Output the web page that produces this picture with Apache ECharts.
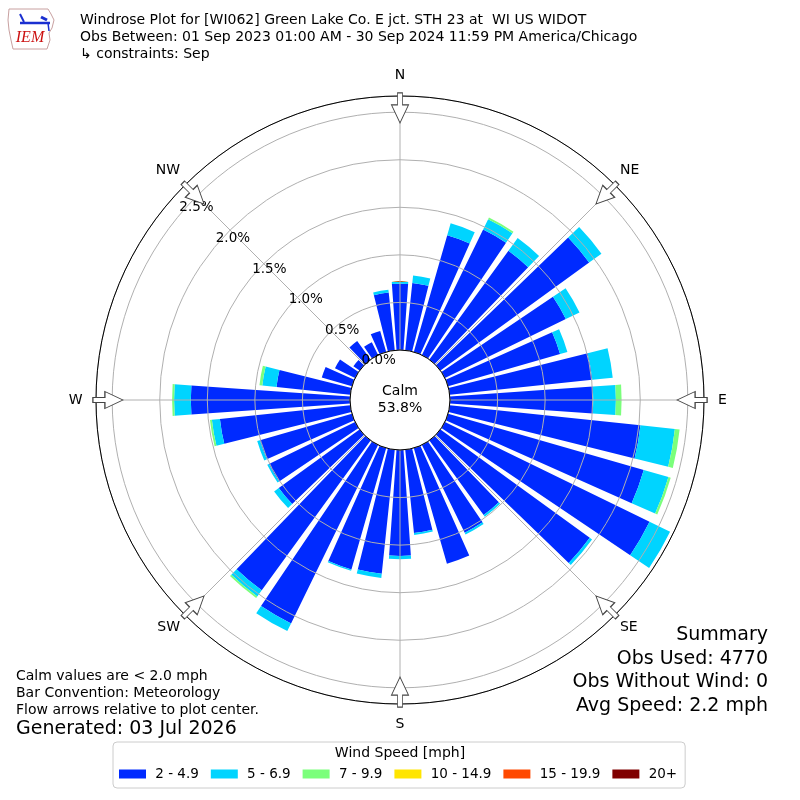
<!DOCTYPE html>
<html><head><meta charset="utf-8">
<script src="https://cdn.jsdelivr.net/npm/echarts@6/dist/echarts.min.js"></script>
<style>html,body{margin:0;padding:0;background:#fff}#c{width:800px;height:800px}</style>
</head><body><div id="c"></div>
<script>
// ---- data ----
const directions = [0,10,20,30,40,50,60,70,80,90,100,110,120,130,140,150,160,170,180,190,200,210,220,230,240,250,260,270,280,290,300,310,320,330,340,350];
const speedBins = ['2 - 4.9','5 - 6.9','7 - 9.9','10 - 14.9','15 - 19.9','20+'];
const speed2to5   = [0.697,0.711,1.276,1.468,1.414,1.932,1.414,1.225,1.507,1.506,2.016,2.14,2.393,1.94,0.97,1.026,1.264,0.88,1.113,1.31,1.327,2.087,1.947,1.05,1.007,1.006,1.378,1.673,0.78,0.33,0.235,0.08,0.24,0.15,0.23,0.61];
const speed5to7   = [0.02,0.08,0.13,0.12,0.165,0.16,0.16,0.08,0.216,0.238,0.364,0.27,0.24,0.03,0.02,0.02,0,0.02,0.035,0.045,0.015,0.09,0.08,0.06,0.02,0.03,0.085,0.176,0.15,0,0,0,0,0,0,0.03];
const speed7to10  = [0,0,0,0.02,0,0,0,0,0,0.06,0.05,0.025,0,0,0,0,0,0,0,0,0,0,0.02,0,0,0,0.02,0.021,0.03,0,0,0,0,0,0,0];
const speed10to15 = new Array(36).fill(0);
const speed15to20 = new Array(36).fill(0);
const speed20plus = new Array(36).fill(0);
const compassLabels = ['N','NE','E','SE','S','SW','W','NW'];
const arrowDirs = [0,45,90,135,180,225,270,315];
const calmPct = '53.8%';
const titleLines = ['Windrose Plot for [WI062] Green Lake Co. E jct. STH 23 at  WI US WIDOT',
  'Obs Between: 01 Sep 2023 01:00 AM - 30 Sep 2024 11:59 PM America/Chicago',
  '\u21b3 constraints: Sep'];
const summaryLines = ['Summary','Obs Used: 4770','Obs Without Wind: 0','Avg Speed: 2.2 mph'];
const noteLines = ['Calm values are < 2.0 mph','Bar Convention: Meteorology','Flow arrows relative to plot center.'];
const generatedLine = 'Generated: 03 Jul 2026';

// ---- styling ----
const FONT = 'DejaVu Sans';
const RMAX = 2.67;
const colors = ['#002aff','#00d4ff','#7bff7b','#ffe500','#ff4900','#800000'];
const speedData = [speed2to5, speed5to7, speed7to10, speed10to15, speed15to20, speed20plus];

const chart = echarts.init(document.getElementById('c'), null, {renderer:'canvas'});

const barSeries = speedBins.map((name, i) => ({
  name, type:'bar', coordinateSystem:'polar', polarIndex:0, stack:'rose',
  data: speedData[i], barCategoryGap:'20%', itemStyle:{color:colors[i]}, z:2, silent:true
}));

const arrowSeries = {
  type:'scatter', coordinateSystem:'polar', polarIndex:1, silent:true, z:6,
  data: arrowDirs.map(a => ({value:[2.545, a], symbolRotate:-a})),
  symbol:'path://M6,0 L11,0 L11,12 L17,12 L8.5,30 L0,12 L6,12 Z',
  symbolSize:[17,30],
  itemStyle:{color:'#ffffff', borderColor:'#444', borderWidth:1, opacity:1}
};

const txt = (x, y, text, size, align, extra) => Object.assign({
  type:'text', z:10, silent:true,
  style:{x, y, text, fill:'#000', font: size + 'px "' + FONT + '"', textAlign:align||'left', textVerticalAlign:'middle'}
}, extra||{});

const graphics = [];
titleLines.forEach((t,i) => graphics.push(txt(80, 20 + i*17, t, 14)));
summaryLines.forEach((t,i) => graphics.push(txt(768, 635 + i*23.7, t, 19, 'right')));
noteLines.forEach((t,i) => graphics.push(txt(16, 676 + i*17, t, 14)));
graphics.push(txt(16, 729, generatedLine, 19));
graphics.push(txt(400, 391, 'Calm', 14, 'center'));
graphics.push(txt(400, 408, calmPct, 14, 'center'));
graphics.push(txt(400, 753, 'Wind Speed [mph]', 14, 'center'));
// IEM logo
graphics.push({type:'polygon', z:10, silent:true,
  shape:{points:[[9,9],[48,9],[51,14],[54,20],[52,28],[49,33],[50,40],[47,49],[13,49],[11,40],[9,30],[8,20]]},
  style:{fill:'none', stroke:'#c8a0a0', lineWidth:1}});
graphics.push({type:'line', z:10, silent:true, shape:{x1:20,y1:23,x2:50,y2:23}, style:{stroke:'#1a2fd0', lineWidth:2.5}});
graphics.push({type:'line', z:10, silent:true, shape:{x1:20,y1:14,x2:24,y2:22}, style:{stroke:'#1a2fd0', lineWidth:2}});
graphics.push({type:'line', z:10, silent:true, shape:{x1:41,y1:17,x2:47,y2:20}, style:{stroke:'#1a2fd0', lineWidth:3}});
graphics.push({type:'line', z:10, silent:true, shape:{x1:48,y1:23,x2:49,y2:31}, style:{stroke:'#1a2fd0', lineWidth:1.5}});
graphics.push({type:'text', z:10, silent:true, style:{x:30, y:38, text:'IEM', fill:'#cc1111', font:'italic 16px "Liberation Serif"', textAlign:'center', textVerticalAlign:'middle'}});

// per-direction label nudges (rich text padding)
const dirRich = {
  N:{padding:[0,0,7,0]}, NE:{padding:[0,0,3,0]}, E:{padding:[0,0,0,7]}, SE:{padding:[0,0,0,0]},
  S:{padding:[6,0,0,0]}, SW:{padding:[0,0,0,0]}, W:{padding:[0,6.5,0,0]}, NW:{padding:[0,0,3,0]}
};
Object.keys(dirRich).forEach(k => Object.assign(dirRich[k], {fontSize:14, color:'#000', fontFamily:FONT}));

const option = {
  animation:false,
  backgroundColor:'#fff',
  textStyle:{fontFamily:FONT},
  polar:[
    {center:[400,400], radius:[50,304]},
    {center:[400,400], radius:[50,304]},
    {center:[400,402], radius:[42.8,296.8]}
  ],
  angleAxis:[
    {polarIndex:0, type:'category', data:directions, startAngle:95, show:false},
    {polarIndex:1, type:'value', min:0, max:360, interval:45, startAngle:90, clockwise:true, z:3,
      axisLine:{show:true, lineStyle:{color:'#000', width:1}},
      axisTick:{show:false},
      splitLine:{show:true, lineStyle:{color:'#b0b0b0', width:1}},
      axisLabel:{margin:7, fontSize:14, color:'#000', fontFamily:FONT, rich:dirRich,
        formatter: v => { if (v >= 360) return ''; const l = compassLabels[Math.round(v/45)]; return '{' + l + '|' + l + '}'; }}},
    {polarIndex:2, type:'value', min:0, max:360, startAngle:140, show:false}
  ],
  radiusAxis:[
    {polarIndex:0, type:'value', min:0, max:RMAX, show:false},
    {polarIndex:1, type:'value', min:0, max:RMAX, interval:0.5, z:3,
      axisLine:{show:false}, axisTick:{show:false}, axisLabel:{show:false},
      splitLine:{show:true, lineStyle:{color:'#b0b0b0', width:1}}},
    {polarIndex:2, type:'value', min:0, max:RMAX, interval:0.5, z:5,
      axisLine:{show:false}, axisTick:{show:false}, splitLine:{show:false},
      axisLabel:{margin:-17.8, align:'center', verticalAlign:'middle', fontSize:13.5, color:'#000', fontFamily:FONT,
        formatter: v => Math.abs(v*2 - Math.round(v*2)) < 1e-6 ? v.toFixed(1) + '%' : ''}}
  ],
  legend:{
    data:speedBins, left:113, top:742, orient:'horizontal', icon:'rect',
    itemWidth:27, itemHeight:9, itemGap:12,
    padding:[25,8,7,6], borderColor:'#cccccc', borderWidth:1, borderRadius:4,
    selectedMode:false,
    formatter: n => ' ' + n,
    textStyle:{fontSize:13.5, color:'#000', fontFamily:FONT}
  },
  graphic: graphics,
  series: [...barSeries, arrowSeries]
};
chart.setOption(option);
</script>
</body></html>
